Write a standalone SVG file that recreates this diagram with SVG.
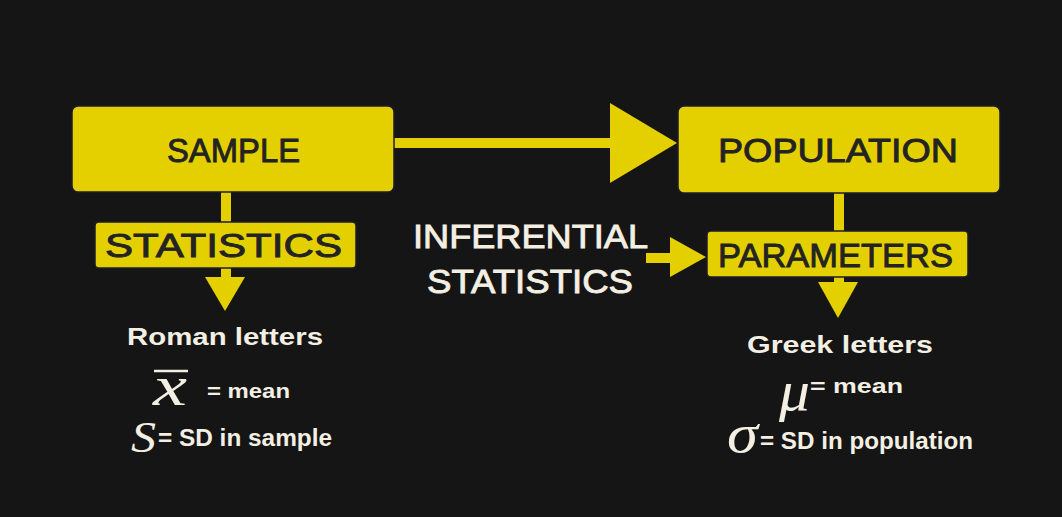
<svg xmlns="http://www.w3.org/2000/svg" width="1062" height="517" viewBox="0 0 1062 517">
<defs>
<style>
.box{fill:#e4d000;stroke:#1c1c2e;stroke-width:1.5}
.yl{fill:#e4d000}
.bt{font-family:"Liberation Sans",Arial,sans-serif;font-size:34px;fill:#232323;stroke:#232323;stroke-width:0.9}
.wt{font-family:"Liberation Sans",Arial,sans-serif;fill:#f3efe2}
.math{font-family:"Liberation Serif","DejaVu Serif",serif;font-style:italic;fill:#f3efe2}
</style>
</defs>
<rect x="0" y="0" width="1062" height="517" fill="#151515"/>
<g id="connectors">
<rect class="yl" x="394" y="138" width="218" height="10"/>
<polygon class="yl" points="610,103 610,183 677,143"/>
<rect class="yl" x="221" y="190" width="10" height="34"/>
<rect class="yl" x="221" y="266" width="10" height="13"/>
<polygon class="yl" points="205,277 245,277 225,311"/>
<rect class="yl" x="834" y="191" width="10" height="42"/>
<rect class="yl" x="834" y="275" width="10" height="9"/>
<polygon class="yl" points="818,282 858,282 838,318"/>
<rect class="yl" x="646" y="253" width="26" height="10"/>
<polygon class="yl" points="670,237 670,277 706,257"/>
</g>
<g id="sample">
<rect class="box" x="72" y="106" width="322" height="86" rx="6"/>
<text class="bt" x="167" y="162" textLength="133" lengthAdjust="spacingAndGlyphs">SAMPLE</text>
</g>
<g id="population">
<rect class="box" x="678" y="106" width="322" height="87" rx="6"/>
<text class="bt" x="718" y="162" textLength="240" lengthAdjust="spacingAndGlyphs">POPULATION</text>
</g>
<g id="statistics">
<rect class="box" x="95" y="222" width="261" height="46" rx="4"/>
<text class="bt" x="105" y="257" textLength="237" lengthAdjust="spacingAndGlyphs">STATISTICS</text>
</g>
<g id="parameters">
<rect class="box" x="707" y="231" width="261" height="46" rx="4"/>
<text class="bt" x="718" y="267" textLength="235" lengthAdjust="spacingAndGlyphs">PARAMETERS</text>
</g>
<g id="inferential">
<text class="wt" x="413" y="248" font-size="34" stroke="#f3efe2" stroke-width="0.9" textLength="235" lengthAdjust="spacingAndGlyphs">INFERENTIAL</text>
<text class="wt" x="427" y="293" font-size="34" stroke="#f3efe2" stroke-width="0.9" textLength="206" lengthAdjust="spacingAndGlyphs">STATISTICS</text>
</g>
<g id="roman">
<text class="wt" x="127" y="345" font-size="24" font-weight="bold" textLength="196" lengthAdjust="spacingAndGlyphs">Roman letters</text>
<line x1="154" y1="371" x2="188" y2="371" stroke="#f3efe2" stroke-width="2.5"/>
<text class="math" x="153" y="405" font-size="58" textLength="34" lengthAdjust="spacingAndGlyphs">x</text>
<text class="wt" x="207" y="398" font-size="21" font-weight="bold" textLength="83" lengthAdjust="spacingAndGlyphs">= mean</text>
<text class="math" x="131" y="452" font-size="45" textLength="25" lengthAdjust="spacingAndGlyphs">S</text>
<text class="wt" x="158" y="446" font-size="23" font-weight="bold" textLength="174" lengthAdjust="spacingAndGlyphs">= SD in sample</text>
</g>
<g id="greek">
<text class="wt" x="747" y="353" font-size="24" font-weight="bold" textLength="186" lengthAdjust="spacingAndGlyphs">Greek letters</text>
<text class="math" x="779" y="410" font-size="56" textLength="31" lengthAdjust="spacingAndGlyphs">μ</text>
<text class="wt" x="810" y="393" font-size="21" font-weight="bold" textLength="93" lengthAdjust="spacingAndGlyphs">= mean</text>
<text class="math" x="727" y="452" font-size="54" textLength="31" lengthAdjust="spacingAndGlyphs">σ</text>
<text class="wt" x="760" y="449" font-size="23" font-weight="bold" textLength="213" lengthAdjust="spacingAndGlyphs">= SD in population</text>
</g>
</svg>
